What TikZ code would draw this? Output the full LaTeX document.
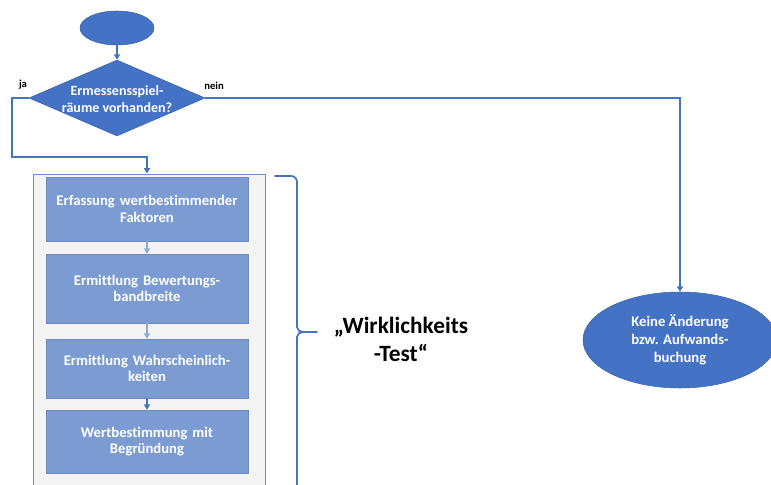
\documentclass[tikz,border=0pt]{standalone}
\usepackage{fontspec}
\setmainfont{Carlito}[Ligatures=NoCommon]
\usetikzlibrary{arrows.meta,shapes.geometric}
\definecolor{mainblue}{HTML}{4472C4}
\definecolor{stepblue}{HTML}{7B9BD2}
\definecolor{lightarrow}{HTML}{8EAADB}
\definecolor{panelgray}{HTML}{F4F4F4}
\def\u{0.75pt}
\tikzset{
  flowline/.style={draw=mainblue, line width=1.5pt},
  arr/.style={flowline, -{Triangle[length=4pt,width=4.5pt]}},
  steparr/.style={draw=lightarrow, line width=1.2pt, -{Triangle[length=4pt,width=4.5pt]}},
  term/.style={ellipse, fill=mainblue, draw=mainblue!85!black, line width=0.4pt, inner sep=0pt},
  decision/.style={diamond, fill=mainblue, draw=mainblue!85!black, line width=0.4pt, inner sep=0pt},
  wtext/.style={text=white, font=\bfseries\fontsize{11}{13.5}\selectfont, align=center},
  stepbox/.style={rectangle, fill=stepblue, draw=stepblue!90!black, line width=0.3pt,
    minimum width=202*\u, text width=190*\u, text=white, align=center,
    font=\bfseries\fontsize{11}{12.5}\selectfont},
  tag/.style={font=\bfseries\fontsize{8}{9}\selectfont, text=black}
}
\begin{document}
\begin{tikzpicture}[x=0.75pt, y=-0.75pt]
\useasboundingbox (0,0) rectangle (771,485);

% grey panel holding the valuation steps
\node[rectangle, fill=panelgray, draw=mainblue!80, line width=0.7pt,
  minimum width=232*\u, minimum height=316*\u, inner sep=0pt] (panel) at (149,332) {};

% start and decision
\node[term, minimum width=74*\u, minimum height=34*\u] (start) at (117,28) {};
\node[decision, minimum width=176*\u, minimum height=76*\u] (dec) at (117,98) {};
\node[wtext, font=\bfseries\fontsize{10.5}{13}\selectfont] (dectext) at (117,99) {Ermessensspiel-\\räume vorhanden?};
\node[tag, anchor=south] (ja) at (23,94) {ja};
\node[tag, anchor=south] (nein) at (214,94) {nein};

% outcome on the "nein" branch
\node[term, minimum width=194*\u, minimum height=96*\u, wtext] (none) at (680,340)
  {Keine Änderung\\bzw. Aufwands-\\buchung};

% steps inside the panel
\node[stepbox, minimum height=64*\u] (s1) at (147,209) {Erfassung wertbestimmender\\Faktoren};
\node[stepbox, minimum height=69*\u] (s2) at (147,288.5) {Ermittlung Bewertungs-\\bandbreite};
\node[stepbox, minimum height=59*\u] (s3) at (147,368.5) {Ermittlung Wahrscheinlich-\\keiten};
\node[stepbox, minimum height=63*\u] (s4) at (147,441.5) {Wertbestimmung mit\\Begründung};

% connectors
\coordinate (jacorner) at (12,157);
\draw[arr] (start.south) -- (dec.north);
\draw[arr] (dec.west) -| (jacorner) -| (s1.north |- panel.north);
\draw[arr] (dec.east) -| (none.north);
\draw[steparr] (s1.south) -- (s2.north);
\draw[steparr] (s2.south) -- (s3.north);
\draw[arr, line width=1.2pt] (s3.south) -- (s4.north);

% curly brace beside the panel
\draw[mainblue, line width=1.3pt, line cap=round]
  (275,176) -- (291,176) to[out=0,in=90] (297,182) -- (297,327)
  to[out=-90,in=180] (303,332) -- (317,332);
\draw[mainblue, line width=1.3pt, line cap=round]
  (303,332) to[out=180,in=90] (297,337) -- (297,490);

\node[font=\bfseries\fontsize{17.5}{21}\selectfont, align=center] (test) at (401,339)
  {„Wirklichkeits\\-Test“};
\end{tikzpicture}
\end{document}
